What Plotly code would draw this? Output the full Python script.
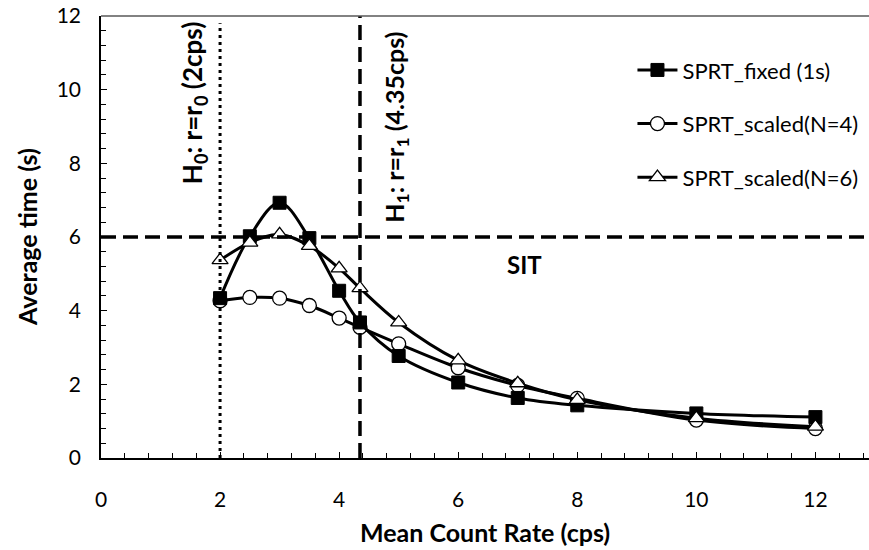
import plotly.graph_objects as go

rate = [2, 2.5, 3, 3.5, 4, 4.35, 5, 6, 7, 8, 10, 12]
sprt_fixed = [4.34, 6.02, 6.93, 5.97, 4.54, 3.68, 2.77, 2.05, 1.63, 1.43, 1.21, 1.11]
sprt_n4 = [4.27, 4.36, 4.34, 4.14, 3.80, 3.55, 3.10, 2.45, 1.97, 1.62, 1.03, 0.80]
sprt_n6 = [5.37, 5.85, 6.07, 5.76, 5.15, 4.61, 3.68, 2.65, 2.03, 1.58, 1.08, 0.85]

names = ["SPRT_fixed (1s)", "SPRT_scaled(N=4)", "SPRT_scaled(N=6)"]
r0 = 2
r1 = 4.35
sit = 6

FONT = "Lato"
fig = go.Figure()

# draw order: N=4, fixed, N=6 ; legend order fixed, N=4, N=6
fig.add_trace(go.Scatter(
    x=rate, y=sprt_n4, name=names[1], mode="lines+markers",
    line=dict(color="black", width=3, shape="spline"),
    marker=dict(symbol="circle", size=14, color="white", line=dict(color="black", width=1.3)),
    legendrank=2, legendgroup="b"))
fig.add_trace(go.Scatter(
    x=rate, y=sprt_fixed, name=names[0], mode="lines+markers",
    line=dict(color="black", width=3, shape="spline"),
    marker=dict(symbol="square", size=13, color="black", line=dict(color="black", width=1)),
    legendrank=1, legendgroup="a"))
fig.add_trace(go.Scatter(
    x=rate, y=sprt_n6, name=names[2], mode="lines+markers",
    line=dict(color="black", width=3, shape="spline"),
    marker=dict(symbol="triangle-up", size=14, color="white", line=dict(color="black", width=1.3)),
    legendrank=3, legendgroup="c"))

shapes = [
    dict(type="line", xref="x", yref="y", x0=r0, x1=r0, y0=0, y1=11.8,
         line=dict(color="black", width=3, dash="3px,4px")),
    dict(type="line", xref="x", yref="y", x0=r1, x1=r1, y0=0, y1=12,
         line=dict(color="black", width=3.5, dash="15px,7px")),
    dict(type="line", xref="paper", yref="y", x0=0, x1=1, y0=sit, y1=sit,
         line=dict(color="black", width=3.5, dash="15px,7px")),
    dict(type="line", xref="paper", yref="paper", x0=0, x1=1, y0=1, y1=1,
         line=dict(color="#595959", width=1.5)),
]

annotations = [
    dict(text="<b>H<sub>0</sub>: r=r<sub>0</sub> (2cps)</b>", x=1.566, y=9.64, xref="x", yref="y",
         showarrow=False, textangle=-90, font=dict(family=FONT, size=26, color="black")),
    dict(text="<b>H<sub>1</sub>: r=r<sub>1</sub> (4.35cps)</b>", x=4.94, y=8.97, xref="x", yref="y",
         showarrow=False, textangle=-90, font=dict(family=FONT, size=25, color="black")),
    dict(text="<b>SIT</b>", x=7.12, y=5.24, xref="x", yref="y",
         showarrow=False, font=dict(family=FONT, size=24, color="black")),
    dict(text="<b>Mean Count Rate (cps)</b>", x=0.5, y=-0.167, xref="paper", yref="paper",
         showarrow=False, xanchor="center", yanchor="middle", font=dict(family=FONT, size=25, color="black")),
    dict(text="<b>Average time (s)</b>", x=-0.0964, y=0.5, xref="paper", yref="paper",
         showarrow=False, textangle=-90, xanchor="center", yanchor="middle",
         font=dict(family=FONT, size=25, color="black")),
]

fig.update_layout(
    width=869, height=550,
    margin=dict(l=101, r=0, t=16, b=92),
    paper_bgcolor="white", plot_bgcolor="white",
    font=dict(family=FONT, size=21, color="black"),
    shapes=shapes, annotations=annotations,
    showlegend=True,
    legend=dict(x=0.692, y=0.925, xanchor="left", yanchor="top", xref="paper", yref="paper",
                bgcolor="rgba(0,0,0,0)", font=dict(family=FONT, size=22, color="black"),
                itemwidth=40, tracegroupgap=22, traceorder="grouped"),
)
fig.update_xaxes(range=[0, 12.9], dtick=2, tick0=0, showgrid=False, zeroline=False,
                 showline=True, linecolor="black", linewidth=1.5,
                 ticks="inside", ticklen=6, tickwidth=1.3, tickcolor="black",
                 ticklabelstandoff=22,
                 minor=dict(dtick=0.4, tick0=0, ticks="inside", ticklen=5, tickwidth=1.3, tickcolor="black", showgrid=False))
fig.update_yaxes(range=[0, 12], dtick=2, tick0=0, showgrid=False, zeroline=False,
                 showline=True, linecolor="black", linewidth=1.5,
                 ticks="inside", ticklen=6, tickwidth=1.3, tickcolor="black",
                 ticklabelstandoff=14,
                 minor=dict(dtick=0.4, tick0=0, ticks="inside", ticklen=5, tickwidth=1.3, tickcolor="black", showgrid=False))

fig.write_html("out.html", config={"displayModeBar": False},
               post_script="document.body.style.margin='0';document.body.style.overflow='hidden';")
